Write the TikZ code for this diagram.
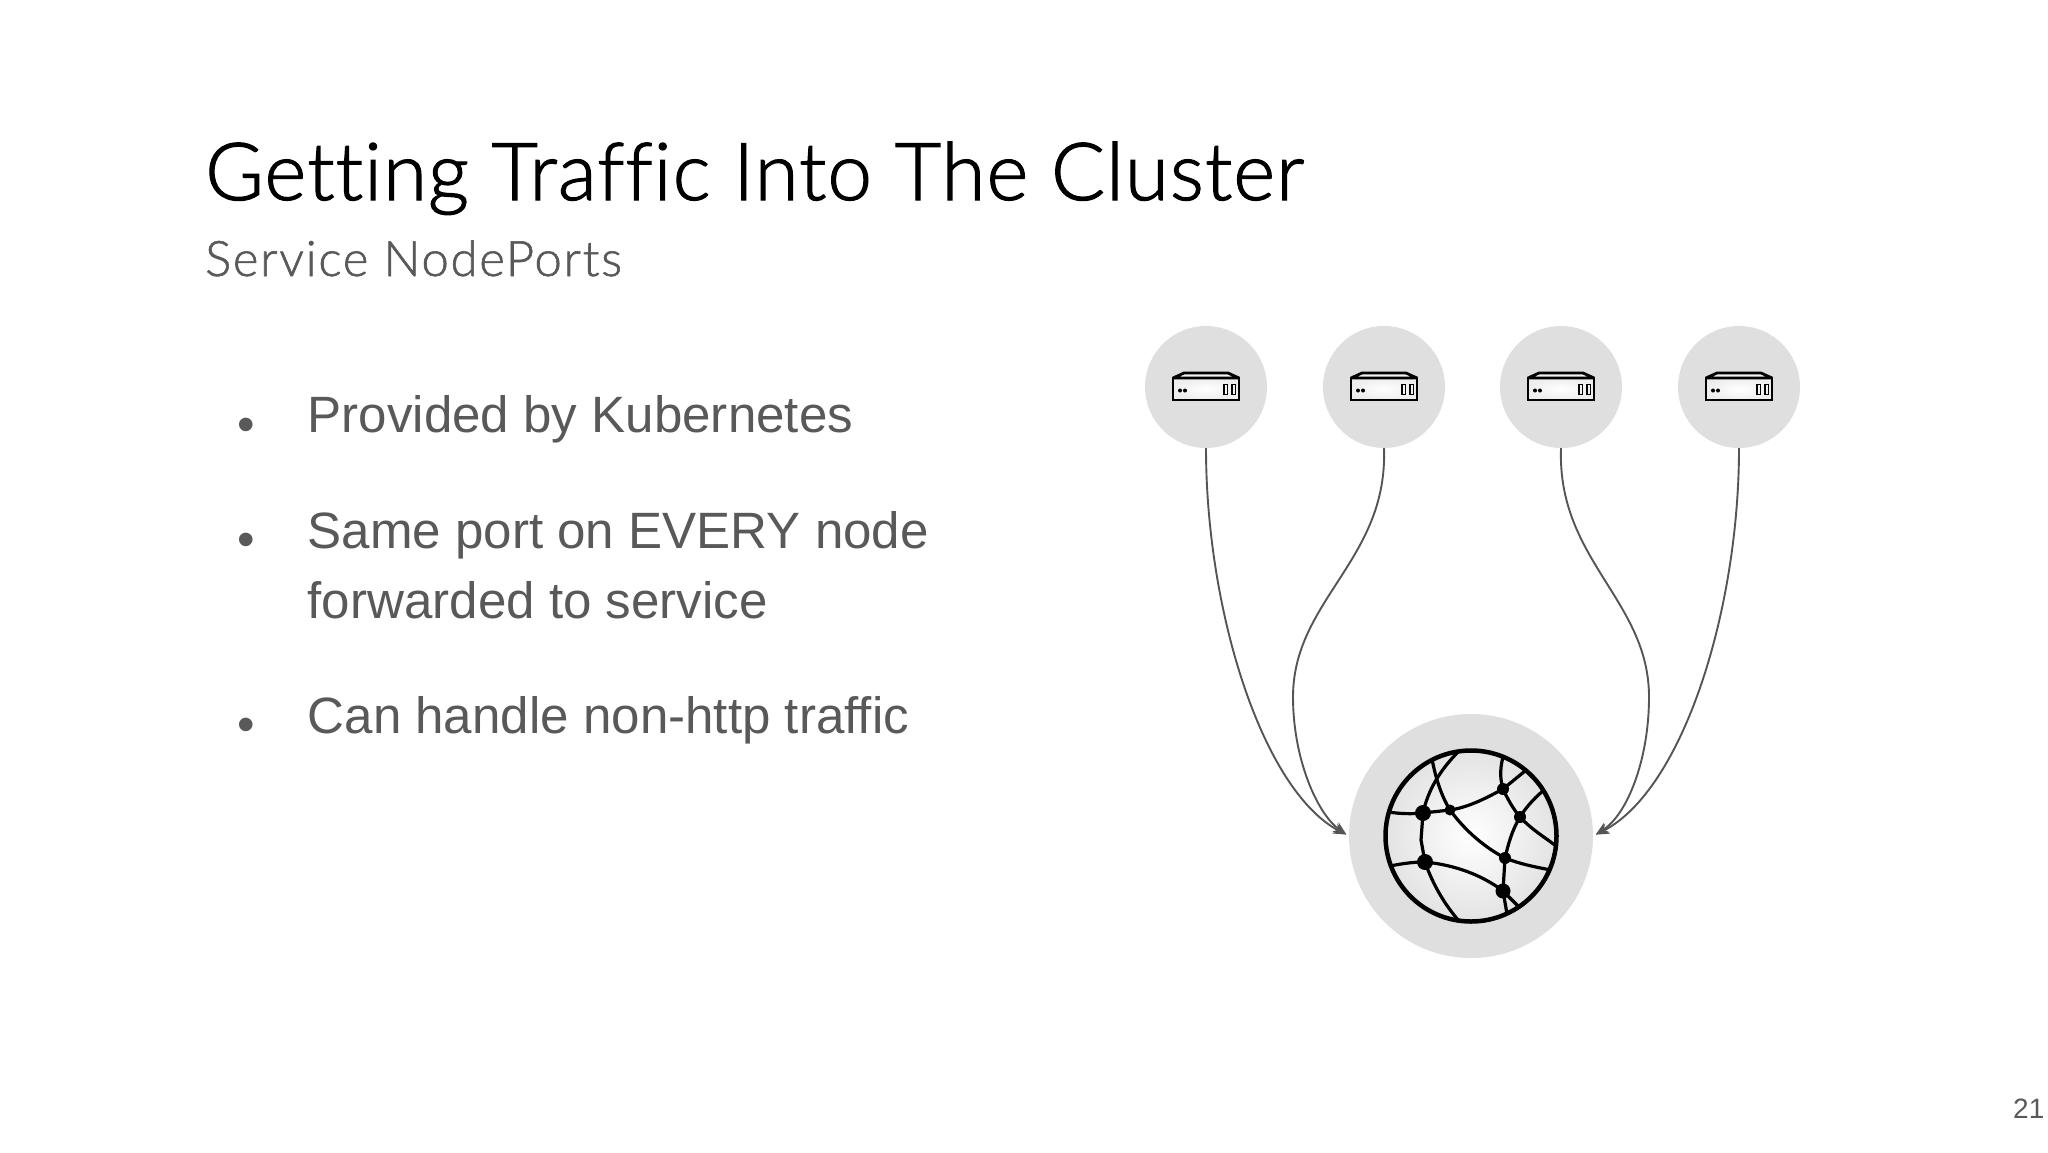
\documentclass[tikz,border=0pt]{standalone}
\usepackage{fontspec}
\usetikzlibrary{arrows.meta}
\setmainfont{Liberation Sans}
\newfontfamily\titlefont[UprightFont=* Light, Ligatures=NoCommon, Contextuals=NoAlternate, LetterSpace=1.3, FakeBold=1.5]{Lato}
\newfontfamily\subtitlefont[UprightFont=* Light, Ligatures=NoCommon, Contextuals=NoAlternate, LetterSpace=3.6, FakeBold=1.2]{Lato}
\definecolor{bodygray}{HTML}{595959}
\definecolor{circlegray}{HTML}{DFDFDF}
\definecolor{wiregray}{HTML}{555555}
\tikzset{
	hostcircle/.style={circle, fill=circlegray, minimum size=122pt, inner sep=0pt},
	cloudcircle/.style={circle, fill=circlegray, minimum size=244pt, inner sep=0pt},
	bodytext/.style={anchor=base west, inner sep=0pt, text=bodygray, font=\fontsize{51.1}{51.1}\selectfont},
	bulletmark/.style={anchor=base, inner sep=0pt, text=bodygray, font=\fontsize{50}{50}\selectfont},
	wire/.style={draw=wiregray, line width=1.9pt, shorten >=3pt, -{Stealth[length=13pt, width=11pt]}},
	pics/hosticon/.style={code={
		\shade[inner color=white, outer color=gray!14] (-33,-9) rectangle (33,13);
		\draw[line width=2.8pt, line join=bevel, fill=white!90!gray] (-33,-9) -- (-22,-14) -- (22,-14) -- (33,-9) -- cycle;
		\draw[line width=2.8pt, line join=miter] (-33,-9) rectangle (33,13);
		\fill (-26,3.5) circle[radius=2];
		\fill (-21,3.5) circle[radius=2];
		\draw[line width=1.6pt] (18,-2.5) rectangle (21.5,7.5);
		\draw[line width=1.6pt] (26,-2.5) rectangle (29.5,7.5);
	}}
}
\begin{document}
\begin{tikzpicture}[x=1pt, y=-1pt]
	\useasboundingbox (0,0) rectangle (2048,1152);
	
	% Title
	\node[anchor=base west, inner sep=0pt, font=\titlefont\fontsize{80}{80}\selectfont] (title) at (205,200) {Getting Traffic Into The Cluster};
	\node[anchor=base west, inner sep=0pt, text=bodygray, font=\subtitlefont\fontsize{49}{49}\selectfont] (subtitle) at (205,276) {Service NodePorts};
	
	% Bullets
	\node[bulletmark] (bulleta) at (246.5,441) {•};
	\node[bodytext] (linea) at (307.5,432) {Provided by Kubernetes};
	\node[bulletmark] (bulletb) at (246.5,556) {•};
	\node[bodytext] (lineb) at (307.5,548) {Same port on EVERY node};
	\node[bodytext] (linec) at (307.5,618) {forwarded to service};
	\node[bulletmark] (bulletc) at (246.5,741) {•};
	\node[bodytext] (lined) at (307.5,733) {Can handle non-http traffic};
	
	% Page number
	\node[anchor=base west, inner sep=0pt, text=bodygray, font=\fontsize{28}{28}\selectfont] (pagenum) at (2013,1118) {21};
	
	% Hosts
	\node[hostcircle] (hosta) at (1206,387) {};
	\node[hostcircle] (hostb) at (1384,387) {};
	\node[hostcircle] (hostc) at (1561,387) {};
	\node[hostcircle] (hostd) at (1739,387) {};
	\pic at (hosta) {hosticon};
	\pic at (hostb) {hosticon};
	\pic at (hostc) {hosticon};
	\pic at (hostd) {hosticon};
	
	% Cloud
	\node[cloudcircle] (cloud) at (1471,836) {};
	
	% Wires
	\draw[wire] (hosta.south) .. controls (1206,610) and (1262,790) .. (cloud.west);
	\draw[wire] (hostb.south) .. controls (1388,560) and (1293,600) .. (1293,697) .. controls (1293,760) and (1318,815) .. (cloud.west);
	\draw[wire] (hostc.south) .. controls (1557,560) and (1649,600) .. (1649,697) .. controls (1649,760) and (1627,815) .. (cloud.east);
	\draw[wire] (hostd.south) .. controls (1739,610) and (1683,790) .. (cloud.east);
	
	% Globe
	\shade[inner color=white, outer color=gray!22] (1471,836) circle[radius=85.5];
	\begin{scope}[line width=3.2pt]
		\draw (1388,812) .. controls (1402,814) and (1412,814) .. (1423,813) -- (1450,810) .. controls (1470,807) and (1488,797) .. (1503,789) -- (1525,771);
		\draw (1459,751) .. controls (1440,770) and (1428,790) .. (1423,813) -- (1421,840) -- (1425,862);
		\draw (1432,759) .. controls (1436,780) and (1442,797) .. (1450,810) .. controls (1466,832) and (1486,848) .. (1505,858);
		\draw (1503,757) .. controls (1499,772) and (1501,782) .. (1503,789) .. controls (1508,800) and (1514,810) .. (1520,817);
		\draw (1544,790) .. controls (1532,800) and (1525,809) .. (1520,817) .. controls (1512,830) and (1508,845) .. (1505,858);
		\draw (1520,817) .. controls (1532,830) and (1546,838) .. (1556,846);
		\draw (1505,858) .. controls (1520,864) and (1535,867) .. (1551,870);
		\draw (1505,858) -- (1503,891) -- (1507,914);
		\draw (1503,891) -- (1520,908);
		\draw (1390,866) .. controls (1405,863) and (1415,862) .. (1425,862) .. controls (1455,865) and (1482,875) .. (1503,891);
		\draw (1425,862) .. controls (1433,885) and (1445,905) .. (1459,921);
	\end{scope}
	\fill (1423,813) circle[radius=8];
	\fill (1450,810) circle[radius=5.5];
	\fill (1503,789) circle[radius=6];
	\fill (1520,817) circle[radius=6];
	\fill (1505,858) circle[radius=6];
	\fill (1503,891) circle[radius=7.5];
	\fill (1425,862) circle[radius=8];
	\draw[line width=4.5pt] (1471,836) circle[radius=85.5];
	
\end{tikzpicture}
\end{document}
